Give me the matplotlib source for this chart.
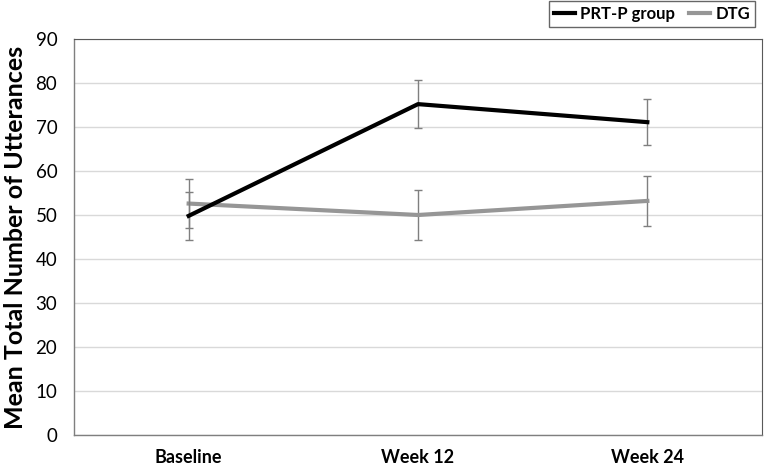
import matplotlib.pyplot as plt
from matplotlib.lines import Line2D
import numpy as np

plt.rcParams['font.family'] = ['Lato', 'DejaVu Sans']

# values
timepoints = ['Baseline', 'Week 12', 'Week 24']
prt_mean = [49.8, 75.2, 71.1]
prt_err = [5.4, 5.4, 5.3]
dtg_mean = [52.6, 50.0, 53.2]
dtg_err = [5.6, 5.6, 5.6]
y_ticks = [0, 10, 20, 30, 40, 50, 60, 70, 80, 90]

fig = plt.figure(figsize=(7.64, 4.68), dpi=100)
ax = fig.add_axes([74/764, 1 - 435/468, 688/764, 396/468])

x = np.arange(len(timepoints))

ax.errorbar(x, prt_mean, yerr=prt_err, color='black', lw=3, ecolor='#7f7f7f',
            elinewidth=1, capsize=3, capthick=1, zorder=3)
ax.errorbar(x, dtg_mean, yerr=dtg_err, color='#969696', lw=3, ecolor='#7f7f7f',
            elinewidth=1, capsize=3, capthick=1, zorder=2)

ax.set_xlim(-0.5, len(timepoints) - 0.5)
ax.set_ylim(0, 90)
ax.set_yticks(y_ticks)
ax.set_xticks(x)
ax.set_xticklabels(timepoints, fontsize=13, fontweight='bold')
ax.tick_params(axis='y', labelsize=13.5, length=0, pad=12)
ax.tick_params(axis='x', length=0, pad=10)
ax.grid(axis='y', color='#d9d9d9', lw=1)
ax.set_axisbelow(True)
for side in ['top', 'right']:
    ax.spines[side].set_color('#595959')
    ax.spines[side].set_linewidth(0.8)
for side in ['left', 'bottom']:
    ax.spines[side].set_color('#7f7f7f')
    ax.spines[side].set_linewidth(1)

ax.set_ylabel('Mean Total Number of Utterances', fontsize=18, fontweight='bold', labelpad=6)

handles = [Line2D([], [], color='black', lw=3), Line2D([], [], color='#969696', lw=3)]
leg = fig.legend(handles, ['PRT-P group', 'DTG'], loc='upper right',
                 bbox_to_anchor=(755/764, 1 - 1/468), ncol=2,
                 fontsize=12, frameon=True, fancybox=False, handlelength=1.3,
                 handletextpad=0.3, columnspacing=0.8, borderpad=0.3, borderaxespad=0)
leg.get_frame().set_edgecolor('#404040')
leg.get_frame().set_linewidth(1)
for t in leg.get_texts():
    t.set_fontweight('bold')

fig.savefig('out.png', dpi=100)
